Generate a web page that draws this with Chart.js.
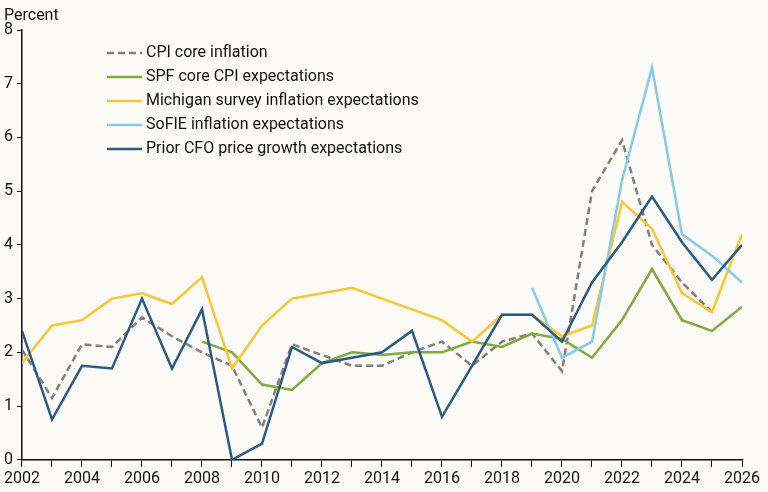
<!DOCTYPE html>
<html><head><meta charset="utf-8">
<script src="https://cdn.jsdelivr.net/npm/chart.js@4.4.1/dist/chart.umd.min.js"></script>
<style>html,body{margin:0;background:#fcfbf8}#w{width:768px;height:492px}</style>
</head><body><div id="w"><canvas id="c"></canvas></div>
<script>
const years=[2002,2003,2004,2005,2006,2007,2008,2009,2010,2011,2012,2013,2014,2015,2016,2017,2018,2019,2020,2021,2022,2023,2024,2025,2026];
const cpi=[2.05,1.15,2.15,2.1,2.65,2.3,2.0,1.75,0.6,2.15,1.95,1.75,1.75,2.0,2.2,1.75,2.2,2.35,1.65,5.0,5.95,4.0,3.3,2.75,null];
const spf=[null,null,null,null,null,null,2.2,2.0,1.4,1.3,1.8,2.0,1.95,2.0,2.0,2.2,2.1,2.35,2.25,1.9,2.6,3.55,2.6,2.4,2.85];
const mich=[1.8,2.5,2.6,3.0,3.1,2.9,3.4,1.7,2.5,3.0,3.1,3.2,3.0,2.8,2.6,2.2,2.7,2.7,2.3,2.5,4.8,4.3,3.1,2.75,4.2];
const sofie=[null,null,null,null,null,null,null,null,null,null,null,null,null,null,null,null,null,3.2,1.9,2.2,5.2,7.3,4.2,3.8,3.3];
const cfo=[2.4,0.75,1.75,1.7,3.0,1.7,2.8,0.0,0.3,2.1,1.8,1.9,2.0,2.4,0.8,1.75,2.7,2.7,2.2,3.3,4.05,4.9,4.05,3.35,4.0];
const yTicks=[0,1,2,3,4,5,6,7,8];
const names=["CPI core inflation","SPF core CPI expectations","Michigan survey inflation expectations","SoFIE inflation expectations","Prior CFO price growth expectations"];
const colors=["#7f7f7f","#7fab3d","#fdc52f","#86cbe6","#2b5a84"];
const series=[cpi,spf,mich,sofie,cfo];
const pts=a=>years.map((y,i)=>({x:y,y:a[i]}));
const datasets=series.map((s,i)=>({label:names[i],data:pts(s),borderColor:colors[i],borderWidth:2.5,borderDash:i===0?[7,4]:[],pointRadius:0,spanGaps:false,tension:0}));
const order=[4,3,2,1,0];
const ds=order.map(i=>datasets[i]);
const legendPlugin={id:'lg',afterDraw(ch){const c=ch.ctx;c.save();c.font='16px Roboto';c.textBaseline='middle';
 names.forEach((n,i)=>{const y=53+i*24;c.strokeStyle=colors[i];c.lineWidth=2.5;c.setLineDash(i===0?[7,4]:[]);c.beginPath();c.moveTo(107,y);c.lineTo(142,y);c.stroke();c.fillStyle='#111';c.fillText(n,146,y);});
 c.setLineDash([]);c.fillStyle='#111';c.fillText('Percent',4,16);c.restore();}};
new Chart(document.getElementById('c'),{type:'line',data:{datasets:ds},
options:{responsive:true,maintainAspectRatio:false,animation:false,
layout:{padding:{top:30,right:26,left:0,bottom:0}},
plugins:{legend:{display:false},tooltip:{enabled:false}},
scales:{x:{type:'linear',min:2002,max:2026,afterBuildTicks:a=>{a.ticks=years.map(v=>({value:v}));},
 grid:{display:true,drawOnChartArea:false,drawTicks:true,tickLength:7,color:'#111'},border:{color:'#111',width:1.5},
 ticks:{autoSkip:false,color:'#111',font:{family:'Roboto',size:16},maxRotation:0,callback:v=>v%2===0?String(v):''}},
 y:{min:0,max:8,afterBuildTicks:a=>{a.ticks=yTicks.map(v=>({value:v}));},
 grid:{display:true,drawOnChartArea:false,drawTicks:true,tickLength:5,color:'#111'},border:{color:'#111',width:1.5},
 ticks:{color:'#111',font:{family:'Roboto',size:16},padding:4}}}},
plugins:[legendPlugin]});
</script></body></html>
